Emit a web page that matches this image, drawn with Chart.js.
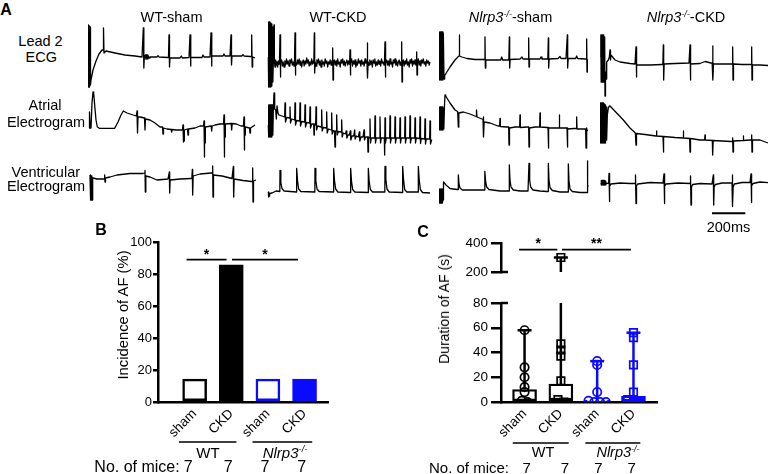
<!DOCTYPE html>
<html><head><meta charset="utf-8">
<script src="https://cdn.jsdelivr.net/npm/chart.js@4.4.1/dist/chart.umd.min.js"></script>
<style>
html,body{margin:0;padding:0;background:#fff;}
#root{position:relative;width:768px;height:474px;overflow:hidden;font-family:'Liberation Sans',Arial,sans-serif;color:#000;}
canvas{position:absolute;}
.t{position:absolute;white-space:nowrap;line-height:1;transform:translate(-50%,-50%);}
.r{transform:translate(-50%,-50%) rotate(-90deg);}
sup{font-size:0.62em;vertical-align:0.55em;line-height:0;}
</style></head><body><div id="root"></div>
<script>
// ================= DATA =================
// Panel A traces: [time (ms), amplitude (arb. units)]
const ecgWTsham = [[0,0],[1,3.2],[2,-3.0],[4,3.2],[6,-3.0],[8,3.1],[10,-3.0],[12,3.0],[15,-2.8],[18,-2.3],[30,-1.3],[48,-0.4],[66,0.3],[84,0.7],[90,0.7],[93,2.9],[96,0.4],[108,0.6],[162,0.4],[222,0.2],[282,0.1],[324,0],[329,0],[332,2.9],[335,-1.1],[338,0],[344,0.2],[347,-0.2],[350,0.2],[353,-0.2],[356,0.2],[359,-0.2],[362,0.1],[366,-0.1],[372,0],[414,0],[420,0.15],[426,0],[480,-0.05],[483,0],[486,2.2],[489,-1.0],[492,-0.1],[552,-0.1],[560,0.1],[566,-0.1],[606,-0.05],[609,-0.05],[612,2.2],[615,-0.9],[618,-0.05],[684,-0.05],[690,0.2],[696,0],[732,0],[735,0],[738,2.4],[741,-0.9],[744,0.1],[810,0.1],[816,0.3],[822,0.1],[852,0.1],[855,0.1],[858,2.2],[861,-0.8],[864,0.1],[924,0.1],[930,0.25],[936,0.1],[972,0.05],[979,0.05],[982,2.2],[985,-1.0],[988,0],[1002,-0.1]];
const atrWTsham = [[6,-0.3],[7,1.3],[9,-0.3],[11,1.3],[13,-0.3],[18,-0.3],[24,2.2],[30,3.3],[34,3.2],[40,2.0],[48,0.5],[56,-0.2],[68,-0.33],[160,-0.33],[180,0.3],[198,1.0],[212,1.4],[234,1.2],[270,1.0],[290,0.9],[294,1.4],[297,-0.8],[300,0.8],[312,0.8],[339,0.7],[342,-0.5],[345,0.6],[372,0.5],[402,0.2],[432,-0.2],[447,-0.2],[450,-0.9],[453,-0.3],[474,-0.4],[499,-0.45],[502,-0.7],[505,-0.45],[528,-0.5],[552,-0.5],[567,-0.5],[570,0.0],[572,-1.7],[574,-1.2],[576,-1.6],[578,-0.5],[597,-0.4],[600,-1.0],[603,-0.4],[642,-0.3],[672,-0.1],[693,-0.1],[696,0.4],[698,-3.2],[700,-1.0],[702,-1.8],[704,-0.2],[739,-0.1],[742,-0.6],[745,-0.1],[762,0.0],[792,0.1],[813,0.1],[816,1.0],[818,-3.2],[820,-0.6],[822,-1.2],[824,0.1],[859,0.15],[862,-0.5],[865,0.15],[890,0.1],[918,-0.1],[933,-0.1],[936,0.8],[938,-2.5],[940,-0.4],[942,-1.0],[944,-0.2],[969,-0.3],[972,-0.8],[975,-0.3],[1002,0.0]];
const ventWTsham = [[12,1.5],[14,-1.0],[17,1.5],[20,-1.0],[23,1.4],[26,-1.0],[28,1.2],[30,1.2],[54,1.1],[98,1.1],[100,1.5],[102,0.8],[105,1.2],[132,1.3],[174,1.5],[252,1.65],[330,1.65],[339,1.7],[342,1.95],[344,-0.2],[347,1.4],[372,1.3],[414,1.0],[480,1.1],[485,1.1],[488,1.8],[490,-0.3],[493,1.0],[552,1.1],[618,1.15],[623,1.15],[626,2.05],[628,-0.5],[631,1.4],[672,1.6],[738,1.7],[745,1.7],[748,2.4],[750,-0.7],[753,1.5],[804,1.4],[864,1.15],[869,1.15],[872,2.35],[874,-0.7],[877,1.1],[930,0.95],[981,0.85],[986,0.85],[988,2.2],[990,-1.2],[993,0.9],[1008,1.0]];

const ecgWTckd = [[8,0],[9,3.5],[11,-3.0],[14,3.5],[17,-3.0],[20,3.4],[23,-3.0],[26,3.3],[29,-2.9],[32,3.0],[35,-2.5],[38,-0.5],[42,3.2],[44,-0.4],[48,-1.0],[52,-0.3],[56,-0.8],[60,-0.5],[64,-1.0],[68,-0.4],[72,-0.7],[75,-0.5],[78,2.2],[80,-2.0],[83,-0.6],[88,-0.3],[92,-0.9],[97,-0.5],[102,-1.0],[107,-0.4],[112,-0.8],[117,-0.2],[122,-0.7],[127,-0.4],[132,-0.9],[137,-0.3],[142,-0.6],[147,-0.2],[152,-0.8],[157,-0.5],[162,-0.9],[165,-0.4],[168,2.4],[170,-1.8],[173,-0.5],[178,-0.8],[183,-0.3],[188,-0.7],[193,-0.2],[198,-0.8],[203,-0.4],[208,-1.0],[213,-0.5],[218,-0.3],[223,-0.9],[228,-0.4],[233,-0.7],[238,-0.1],[243,-0.6],[248,-0.3],[253,-0.9],[258,-0.5],[263,-0.8],[268,-0.2],[273,-0.7],[278,-0.4],[281,-0.6],[284,2.4],[286,-1.6],[289,-0.5],[294,-0.9],[299,-0.3],[304,-0.6],[309,-0.2],[314,-0.8],[319,-0.4],[324,-1.0],[329,-0.3],[334,-0.7],[339,-0.5],[344,-0.9],[349,-0.2],[354,-0.6],[359,-0.4],[364,-1.0],[369,-0.5],[374,-0.7],[379,-0.3],[384,-0.8],[389,-0.4],[391,-0.5],[394,0.9],[396,-2.3],[399,-0.6],[404,-0.3],[409,-0.8],[414,-0.4],[419,-0.9],[424,-0.2],[429,-0.7],[434,-0.5],[439,-1.0],[444,-0.3],[449,-0.6],[454,-0.2],[459,-0.8],[464,-0.4],[469,-0.9],[474,-0.5],[479,-0.3],[484,-0.8],[489,-0.4],[494,-0.7],[496,-0.5],[498,0.7],[500,-1.8],[503,-0.6],[508,-0.2],[513,-0.9],[518,-0.4],[523,-0.7],[528,-0.3],[533,-1.0],[538,-0.5],[543,-0.8],[548,-0.2],[553,-0.6],[558,-0.4],[563,-0.9],[568,-0.3],[573,-0.7],[578,-0.5],[583,-0.9],[588,-0.2],[593,-0.6],[598,-0.4],[600,-0.6],[602,1.4],[604,-2.1],[607,-0.5],[612,-0.8],[617,-0.3],[622,-0.7],[627,-0.4],[632,-1.0],[637,-0.3],[642,-0.6],[647,-0.2],[652,-0.9],[657,-0.5],[662,-0.8],[667,-0.3],[672,-0.7],[677,-0.4],[682,-0.9],[687,-0.2],[692,-0.6],[697,-0.5],[702,-0.8],[705,-0.4],[708,1.5],[710,-2.0],[713,-0.6],[718,-0.3],[723,-0.8],[728,-0.4],[733,-0.9],[738,-0.2],[743,-0.7],[748,-0.5],[753,-1.0],[758,-0.3],[763,-0.6],[768,-0.2],[773,-0.8],[778,-0.4],[783,-0.9],[788,-0.5],[793,-0.3],[798,-0.8],[803,-0.5],[805,-0.6],[808,1.5],[810,-2.5],[813,-0.6],[818,-0.3],[823,-0.9],[828,-0.4],[833,-0.7],[838,-0.2],[843,-0.8],[848,-0.5],[853,-1.0],[858,-0.3],[863,-0.6],[868,-0.2],[873,-0.9],[878,-0.4],[883,-0.7],[888,-0.3],[893,-0.8],[895,-0.5],[898,0.5],[900,-1.8],[903,-0.5],[908,-0.2],[913,-0.8],[918,-0.4],[923,-0.9],[928,-0.3],[933,-0.6],[938,-0.2],[943,-0.7],[948,-0.5],[953,-0.9],[958,-0.3],[963,-0.6],[968,-0.4],[973,-0.8],[978,-0.5]];
const atrWTckd = [[8,0],[9,2.0],[11,-1.2],[14,2.0],[17,-1.2],[20,2.0],[23,-1.2],[26,2.0],[29,-1.2],[32,2.0],[35,-1.0],[38,1.5],[42,3.2],[46,1.6],[52,1.5],[56,0.6],[60,1.9],[66,1.2],[72,1.0],[106,0.8],[108,2.2],[111,0.3],[118,0.75],[136,0.7],[138,1.8],[141,0.2],[148,0.6],[166,0.5],[168,2.2],[171,0.0],[178,0.45],[196,0.4],[198,2.2],[201,-0.1],[208,0.35],[226,0.3],[228,2.0],[231,-0.2],[238,0.25],[256,0.2],[258,1.8],[261,-0.3],[268,0.1],[280,0.1],[282,-1.0],[284,0.1],[292,0.0],[294,1.8],[297,-0.5],[304,-0.1],[326,-0.2],[328,1.5],[331,-0.6],[338,-0.25],[356,-0.3],[358,1.3],[361,-0.8],[368,-0.4],[386,-0.5],[388,1.2],[391,-0.9],[398,-0.55],[405,-0.6],[408,-2.2],[411,-0.6],[416,-0.6],[418,1.0],[421,-1.0],[428,-0.65],[446,-0.7],[448,0.5],[451,-1.2],[458,-0.8],[470,-0.9],[476,-0.6],[479,-1.3],[486,-1.0],[494,-1.0],[500,-0.6],[503,-1.5],[510,-1.1],[520,-1.1],[526,-0.5],[529,-1.4],[536,-1.1],[548,-1.2],[554,-0.7],[557,-1.6],[564,-1.2],[576,-1.2],[582,-0.5],[585,-1.5],[592,-1.2],[604,-1.2],[606,-2.7],[609,-1.2],[616,-1.3],[618,0.6],[621,-1.8],[626,-1.3],[646,-1.3],[648,0.9],[651,-1.8],[656,-1.3],[676,-1.3],[678,0.8],[681,-1.8],[686,-1.3],[704,-1.3],[706,-3.0],[708,0.7],[711,-1.8],[716,-1.3],[736,-1.3],[738,0.9],[741,-1.8],[746,-1.3],[766,-1.3],[768,0.8],[771,-1.8],[776,-1.3],[796,-1.3],[798,0.7],[801,-1.8],[806,-1.3],[826,-1.3],[828,0.8],[831,-1.8],[836,-1.3],[856,-1.3],[858,0.9],[861,-1.8],[866,-1.3],[886,-1.3],[888,0.7],[891,-1.8],[896,-1.3],[916,-1.35],[918,0.8],[921,-1.85],[926,-1.35],[946,-1.4],[948,0.6],[951,-1.9],[956,-1.4],[976,-1.4],[978,0.4],[981,-1.9],[988,-1.45]];
const ventWTckd = [[8,-0.2],[9,-0.7],[11,-0.2],[13,-0.6],[16,-0.35],[30,-0.3],[54,-0.1],[77,-0.15],[78,1.95],[83,0.75],[90,0.15],[103,-0.1],[177,-0.2],[178,2.15],[183,0.95],[190,0.1],[203,-0.15],[287,-0.2],[288,2.15],[293,0.95],[300,0.1],[313,-0.15],[399,-0.2],[400,2.15],[405,0.95],[412,0.1],[425,-0.2],[501,-0.25],[502,2.15],[507,0.9],[514,0.05],[527,-0.2],[607,-0.25],[608,2.15],[613,0.9],[620,0.05],[633,-0.2],[707,-0.2],[708,2.35],[713,1.1],[720,0.1],[733,-0.2],[813,-0.25],[814,2.35],[819,1.1],[826,0.05],[839,-0.2],[907,-0.2],[908,2.35],[913,1.1],[920,0.05],[933,-0.25],[978,-0.3]];

const ecgKOsham = [[2,0],[3,2.5],[5,-2.3],[8,2.5],[11,-2.3],[14,2.5],[17,-2.3],[20,2.5],[23,-2.3],[26,2.4],[30,-2.2],[34,-1.8],[36,-1.8],[66,-1.0],[96,-0.3],[116,0.05],[120,0.1],[122,2.2],[124,0.1],[138,0],[168,-0.15],[216,-0.25],[264,-0.25],[273,-0.25],[276,2.0],[278,-1.1],[281,-0.3],[336,-0.3],[370,-0.3],[376,0.0],[382,-0.3],[408,-0.3],[419,-0.3],[422,2.0],[424,-1.1],[427,-0.25],[486,-0.2],[498,0.0],[504,-0.2],[528,-0.2],[535,-0.2],[538,1.9],[540,-1.0],[543,-0.2],[606,-0.2],[612,0.0],[618,-0.2],[642,-0.2],[653,-0.2],[656,1.9],[658,-1.1],[661,-0.2],[714,-0.15],[726,0.05],[732,-0.15],[762,-0.15],[767,-0.15],[770,2.2],[772,-1.1],[775,-0.15],[820,-0.15],[826,0.1],[832,-0.15],[876,-0.2],[883,-0.2],[886,1.8],[888,-1.5],[890,-0.3],[894,-0.3]];
const atrKOsham = [[2,0],[3,1.8],[5,-0.5],[8,1.8],[11,-0.5],[14,1.8],[17,-0.5],[20,1.8],[23,-0.5],[26,1.7],[29,-0.4],[33,2.0],[36,3.0],[40,2.9],[66,2.2],[96,1.5],[112,1.35],[116,-0.2],[119,1.2],[146,1.3],[186,1.1],[222,0.85],[224,0.85],[226,1.5],[228,0.8],[258,0.6],[264,0.55],[266,0.8],[268,-1.2],[271,0.3],[306,0.2],[354,-0.1],[364,-0.1],[366,0.65],[368,-0.15],[408,-0.2],[418,-0.2],[420,-2.0],[423,-0.3],[456,-0.2],[484,-0.2],[486,1.0],[488,-0.25],[528,-0.2],[538,-0.2],[540,-2.2],[543,-0.3],[576,-0.2],[604,-0.2],[606,1.2],[608,-0.2],[648,-0.25],[654,-0.25],[656,-2.3],[659,-0.3],[696,-0.3],[720,-0.3],[722,1.0],[724,-0.3],[762,-0.3],[768,-0.3],[770,-2.2],[773,-0.4],[810,-0.35],[824,-0.35],[826,0.8],[828,-0.4],[864,-0.4],[880,-0.4],[882,-2.3],[885,-0.3],[887,-0.6],[894,-0.5]];
const ventKOsham = [[0,0],[1,-1.3],[3,0.1],[6,-1.3],[9,0.1],[12,-1.3],[15,0.1],[18,-1.3],[21,0.1],[24,-1.0],[26,0.7],[28,0.8],[42,0.5],[66,0.15],[108,0.05],[114,0.05],[116,1.5],[120,0.6],[126,0.2],[140,0.0],[186,0.0],[270,0.0],[274,0.0],[276,1.85],[280,0.8],[286,0.3],[300,0.05],[366,-0.1],[414,-0.1],[420,-0.1],[422,2.5],[426,1.0],[432,0.3],[446,0.0],[486,-0.1],[534,-0.1],[538,-0.1],[540,2.65],[544,1.0],[550,0.3],[564,0.0],[606,-0.1],[648,-0.15],[654,-0.15],[656,2.65],[660,1.0],[666,0.25],[680,-0.05],[726,-0.2],[768,-0.2],[774,-0.2],[776,2.6],[780,0.9],[786,0.1],[800,-0.15],[846,-0.25],[882,-0.25],[888,-0.25],[890,2.9],[893,0.5],[896,0.35]];

const ecgKOckd = [[4,0],[5,2.2],[7,-2.5],[10,2.2],[13,-2.5],[16,2.2],[19,-2.5],[22,2.2],[25,-2.5],[28,2.0],[30,-3.9],[33,-1.5],[36,-2.2],[40,-0.5],[50,-0.3],[56,0.0],[60,0.7],[63,-0.3],[66,0.2],[90,-0.3],[120,-0.5],[180,-0.65],[210,-0.7],[213,-0.7],[216,1.0],[218,-2.0],[221,-0.8],[300,-0.8],[372,-0.75],[377,-0.75],[380,1.2],[382,-2.3],[385,-0.7],[450,-0.65],[534,-0.6],[537,-0.6],[540,1.2],[542,-2.3],[545,-0.7],[600,-0.65],[630,-0.45],[666,-0.6],[673,-0.6],[676,1.1],[678,-2.3],[681,-0.7],[732,-0.7],[786,-0.7],[793,-0.7],[796,1.0],[798,-2.3],[801,-0.7],[852,-0.75],[900,-0.75],[907,-0.75],[910,1.0],[912,-2.3],[915,-0.8],[960,-0.8],[1008,-0.85]];
const atrKOckd = [[0,0],[1,2.2],[3,-1.8],[6,2.2],[9,-1.8],[12,2.2],[15,-1.8],[18,2.2],[21,-1.8],[24,2.1],[27,-1.8],[30,2.0],[33,-1.8],[36,1.8],[40,-1.5],[44,1.0],[50,1.7],[56,1.9],[60,1.9],[100,1.2],[140,0.5],[180,-0.3],[212,-0.8],[214,-0.8],[216,-2.0],[219,-0.85],[270,-0.95],[336,-1.1],[338,-1.1],[340,-0.6],[342,-1.1],[378,-1.15],[380,-2.7],[383,-1.15],[450,-1.25],[498,-1.3],[500,-0.6],[502,-1.3],[538,-1.35],[540,-2.7],[543,-1.35],[600,-1.5],[628,-1.5],[630,-1.0],[632,-1.5],[674,-1.55],[676,-3.0],[679,-1.55],[732,-1.6],[786,-1.65],[794,-1.65],[796,-1.3],[798,-2.7],[801,-1.6],[858,-1.55],[860,-1.1],[862,-1.55],[900,-1.5],[908,-1.5],[910,-1.0],[912,-2.7],[915,-1.5],[960,-1.5],[1008,-1.8]];
const ventKOckd = [[6,0.7],[7,0.95],[9,0.5],[12,0.95],[15,0.5],[18,0.95],[21,0.5],[24,0.95],[27,0.5],[30,0.9],[34,0.5],[40,0.7],[46,0.67],[52,0.67],[54,1.65],[56,-1.15],[59,0.4],[66,0.6],[120,0.7],[180,0.65],[210,0.65],[212,0.65],[214,1.5],[216,-1.35],[219,0.4],[226,0.6],[300,0.75],[378,0.7],[382,0.7],[384,1.6],[386,-1.35],[389,0.4],[396,0.6],[468,0.7],[540,0.65],[542,0.65],[544,1.4],[546,-1.5],[549,0.3],[556,0.55],[600,0.65],[672,0.6],[678,0.6],[680,1.5],[682,-1.5],[685,0.3],[692,0.55],[732,0.7],[786,0.7],[792,0.7],[794,1.5],[796,-1.65],[799,0.3],[806,0.6],[852,0.75],[900,0.75],[904,0.75],[906,1.6],[908,-1.25],[911,0.4],[918,0.65],[960,0.8],[1008,0.73]];

const scaleBarMs = [672, 872];           // 200 ms scale bar
const scaleBarLabel = '200ms';

// Panel B
const groupLabels = ['sham','CKD','sham','CKD'];
const incidencePct = [14.3, 85.7, 14.3, 14.3];
const miceCount = [7, 7, 7, 7];
const yTicksB = [0, 20, 40, 60, 80, 100];

// Panel C
const durWTsham = [58, 28, 20, 12, 8, 1, 0];
const durWTckd  = [300, 47, 42, 37, 17, 2, 0];
const durKOsham = [33, 30, 8, 1, 0, 0, 0];
const durKOckd  = [56, 52, 30, 8, 2, 0, 0];
const boxTop    = [10, 14.5, 1.5, 4.5];
const boxMedian = [1, 2.5, 0, 0.5];
const whiskerMax = [58, 300, 33, 56];
const yTicksCLow = [0, 20, 40, 60, 80];
const yTicksCHigh = [200, 400];

// annotations (in data units)
const sigB = [{from:0.78,to:1.87,y:89,mark:'*'},{from:2.02,to:3.82,y:89,mark:'*'}];
const sigC = [{from:0.85,to:1.9,y:354,mark:'*'},{from:2.03,to:3.93,y:354,mark:'**'}];
const genoSpansB = [[0.57,2.14],[2.58,4.21]];
const genoSpansC = [[0.675,2.216],[2.675,4.19]];

// ================= RENDER =================
const BLUE = 'rgb(10,10,255)';
const FONT = "'Liberation Sans', Arial, sans-serif";
Chart.defaults.font.family = FONT;
Chart.defaults.color = '#000';
Chart.defaults.animation = false;

const root = document.getElementById('root');
function mkCanvas(l, t, w, h) {
  const c = document.createElement('canvas');
  c.width = w; c.height = h;
  c.style.left = l + 'px'; c.style.top = t + 'px';
  c.style.width = w + 'px'; c.style.height = h + 'px';
  root.appendChild(c);
  return c;
}
function txt(html, x, y, size, opt) {
  opt = opt || {};
  const d = document.createElement('div');
  d.className = 't' + (opt.rot ? ' r' : '');
  d.innerHTML = html;
  d.style.left = x + 'px'; d.style.top = y + 'px';
  d.style.fontSize = size + 'px';
  if (opt.bold) d.style.fontWeight = 'bold';
  root.appendChild(d);
  return d;
}
const baseOpts = () => ({
  responsive: false, devicePixelRatio: 1, animation: false, events: [],
  plugins: { legend: { display: false }, tooltip: { enabled: false } }
});

// ---- Panel A ----
const traceGrid = [
  [ecgWTsham, atrWTsham, ventWTsham],
  [ecgWTckd, atrWTckd, ventWTckd],
  [ecgKOsham, atrKOsham, ventKOsham],
  [ecgKOckd, atrKOckd, ventKOckd]
];
const colLeft = [88, 267, 439, 600];
const rowZero = [57, 125, 190];
const MS_PER_PX = 6, UNIT_PX = 10, TRACE_W = 172, TRACE_H = 80;

const scaleBarPlugin = {
  id: 'scalebar',
  afterDraw(chart) {
    const { ctx, scales: { x, y } } = chart;
    const yy = y.getPixelForValue(-2.33);
    ctx.save(); ctx.strokeStyle = '#000'; ctx.lineWidth = 2;
    ctx.beginPath(); ctx.moveTo(x.getPixelForValue(scaleBarMs[0]), yy); ctx.lineTo(x.getPixelForValue(scaleBarMs[1]), yy); ctx.stroke();
    ctx.restore();
  }
};

traceGrid.forEach((col, ci) => col.forEach((trace, ri) => {
  const cv = mkCanvas(colLeft[ci], rowZero[ri] - TRACE_H / 2, TRACE_W, TRACE_H);
  const o = baseOpts();
  o.layout = { padding: 0 };
  o.scales = {
    x: { type: 'linear', display: false, min: 0, max: TRACE_W * MS_PER_PX },
    y: { type: 'linear', display: false, min: -TRACE_H / 2 / UNIT_PX, max: TRACE_H / 2 / UNIT_PX }
  };
  new Chart(cv, {
    type: 'scatter',
    data: { datasets: [{ data: trace.map(([t, v]) => ({ x: t, y: v })), showLine: true, borderColor: '#000', borderWidth: 1.3, borderJoinStyle: 'round', pointRadius: 0, tension: 0 }] },
    options: o,
    plugins: (ci === 3 && ri === 2) ? [scaleBarPlugin] : []
  });
}));

// ---- Panel B ----
const xPos = [1, 2, 3, 4];
function line(ctx, x1, y1, x2, y2) { ctx.beginPath(); ctx.moveTo(x1, y1); ctx.lineTo(x2, y2); ctx.stroke(); }
const annB = {
  id: 'annB',
  afterDraw(chart) {
    const { ctx, scales: { x, y }, chartArea } = chart;
    ctx.save(); ctx.strokeStyle = '#000'; ctx.fillStyle = '#000'; ctx.lineWidth = 1.6;
    ctx.font = 'bold 14px ' + FONT; ctx.textAlign = 'center'; ctx.textBaseline = 'alphabetic';
    sigB.forEach(s => {
      const yy = y.getPixelForValue(s.y);
      line(ctx, x.getPixelForValue(s.from), yy, x.getPixelForValue(s.to), yy);
      ctx.fillText(s.mark, (x.getPixelForValue(s.from) + x.getPixelForValue(s.to)) / 2, yy - 1);
    });
    genoSpansB.forEach(g => line(ctx, x.getPixelForValue(g[0]), chartArea.bottom + 40, x.getPixelForValue(g[1]), chartArea.bottom + 40));
    ctx.restore();
  }
};
{
  const cv = mkCanvas(90, 230, 250, 220);
  const o = baseOpts();
  o.layout = { padding: { top: 12, right: 12, left: 0, bottom: 0 } };
  o.scales = {
    x: {
      type: 'linear', min: 0, max: 4.64, offset: false,
      grid: { display: false, drawTicks: false },
      border: { display: true, color: '#000', width: 2.5 },
      afterBuildTicks: s => { s.ticks = xPos.map(v => ({ value: v })); },
      ticks: { autoSkip: false, minRotation: 45, maxRotation: 45, padding: 4, color: '#000', font: { size: 13.5 }, callback: v => groupLabels[v - 1] },
      afterFit: s => { s.height = 48; }
    },
    y: {
      type: 'linear', min: 0, max: 100,
      afterBuildTicks: s => { s.ticks = yTicksB.map(v => ({ value: v })); },
      ticks: { color: '#000', font: { size: 13 }, padding: 1 },
      grid: { drawOnChartArea: false, drawTicks: true, tickLength: 5, lineWidth: 2.5, color: '#000' },
      border: { display: true, color: '#000', width: 2.5 },
      afterFit: s => { s.width = 68; }
    }
  };
  new Chart(cv, {
    type: 'bar',
    data: { datasets: [{
      data: xPos.map((x, i) => ({ x, y: incidencePct[i] })),
      backgroundColor: ['#fff', '#000', '#fff', BLUE],
      borderColor: ['#000', '#000', BLUE, BLUE],
      borderWidth: 2.5, borderSkipped: false, barThickness: 24
    }] },
    options: o,
    plugins: [annB]
  });
}

// ---- Panel C ----
const durations = [durWTsham, durWTckd, durKOsham, durKOckd];
const colorsC = ['#000', '#000', BLUE, BLUE];
const shapesC = ['circle', 'rect', 'circle', 'rect'];
function spreadOffsets(vals) {
  const keyOf = v => (v < 3 ? 'low' : String(v));
  const counts = {}, seen = {};
  vals.forEach(v => { const k = keyOf(v); counts[k] = (counts[k] || 0) + 1; });
  return vals.map(v => { const k = keyOf(v); seen[k] = seen[k] === undefined ? 0 : seen[k] + 1; return (seen[k] - (counts[k] - 1) / 2) * 0.16; });
}
function datasetsC() {
  const ds = [];
  ds.push({ type: 'bar', data: xPos.map((x, i) => ({ x, y: [0, boxTop[i]] })), backgroundColor: '#fff', borderColor: colorsC, borderWidth: 2.3, borderSkipped: false, barThickness: 24, order: 6 });
  ds.push({ type: 'scatter', data: xPos.map((x, i) => ({ x, y: boxMedian[i] })), pointStyle: 'line', pointRadius: 11, pointBorderColor: colorsC, borderColor: colorsC, pointBorderWidth: 2, order: 5 });
  xPos.forEach((x, i) => ds.push({ type: 'scatter', data: [{ x, y: boxTop[i] }, { x, y: whiskerMax[i] }], showLine: true, borderColor: colorsC[i], borderWidth: 2.5, pointRadius: 0, order: 4 }));
  ds.push({ type: 'scatter', data: xPos.map((x, i) => ({ x, y: whiskerMax[i] })), pointStyle: 'line', pointRadius: 7, pointBorderColor: colorsC, borderColor: colorsC, pointBorderWidth: 2.5, order: 3 });
  durations.forEach((vals, i) => {
    const off = spreadOffsets(vals);
    ds.push({ type: 'scatter', data: vals.map((v, k) => ({ x: xPos[i] + off[k], y: v })), pointStyle: shapesC[i], pointRadius: shapesC[i] === 'rect' ? 5.3 : 4.2, pointBorderColor: colorsC[i], pointBackgroundColor: 'rgba(0,0,0,0)', borderColor: colorsC[i], pointBorderWidth: 1.7, order: 1 });
  });
  return ds;
}
const C_MIN = 0.351, C_MAX = 4.648;
const annCHigh = {
  id: 'annCHigh',
  afterDraw(chart) {
    const { ctx, scales: { x, y }, chartArea } = chart;
    ctx.save(); ctx.strokeStyle = '#000'; ctx.fillStyle = '#000'; ctx.lineWidth = 1.6;
    ctx.font = 'bold 14px ' + FONT; ctx.textAlign = 'center'; ctx.textBaseline = 'alphabetic';
    sigC.forEach(s => {
      const yy = y.getPixelForValue(s.y);
      line(ctx, x.getPixelForValue(s.from), yy, x.getPixelForValue(s.to), yy);
      ctx.fillText(s.mark, (x.getPixelForValue(s.from) + x.getPixelForValue(s.to)) / 2, yy - 2);
    });
    ctx.lineWidth = 2.5;
    const yb = y.getPixelForValue(200);
    line(ctx, chartArea.left, yb, chartArea.left + 7, yb);
    ctx.restore();
  }
};
const annCLow = {
  id: 'annCLow',
  afterDraw(chart) {
    const { ctx, scales: { x, y }, chartArea } = chart;
    ctx.save(); ctx.strokeStyle = '#000'; ctx.lineWidth = 2.5;
    const yb = y.getPixelForValue(80);
    line(ctx, chartArea.left, yb, chartArea.left + 7, yb);
    ctx.lineWidth = 1.6;
    genoSpansC.forEach(g => line(ctx, x.getPixelForValue(g[0]), chartArea.bottom + 41, x.getPixelForValue(g[1]), chartArea.bottom + 41));
    ctx.restore();
  }
};
function yAxisC(min, max, ticksArr) {
  return {
    type: 'linear', min, max,
    afterBuildTicks: s => { s.ticks = ticksArr.map(v => ({ value: v })); },
    ticks: { color: '#000', font: { size: 13.5 }, padding: 3 },
    grid: { drawOnChartArea: false, drawTicks: true, tickLength: 10, lineWidth: 2.5, color: '#000' },
    border: { display: true, color: '#000', width: 2.5 },
    afterFit: s => { s.width = 81; }
  };
}
{
  const cv = mkCanvas(420, 230, 250, 55);
  const o = baseOpts();
  o.layout = { padding: { top: 12, right: 10, left: 0, bottom: 8 } };
  o.scales = {
    x: { type: 'linear', display: false, offset: false, min: C_MIN, max: C_MAX },
    y: yAxisC(200, 400, yTicksCHigh)
  };
  new Chart(cv, { type: 'bar', data: { datasets: datasetsC() }, options: o, plugins: [annCHigh] });
}
{
  const cv = mkCanvas(420, 290, 250, 160);
  const o = baseOpts();
  o.layout = { padding: { top: 11, right: 10, left: 0, bottom: 0 } };
  o.scales = {
    x: {
      type: 'linear', min: C_MIN, max: C_MAX, offset: false,
      grid: { display: false, drawTicks: false },
      border: { display: true, color: '#000', width: 2.5 },
      afterBuildTicks: s => { s.ticks = xPos.map(v => ({ value: v })); },
      ticks: { autoSkip: false, minRotation: 45, maxRotation: 45, padding: 4, color: '#000', font: { size: 13.5 }, callback: v => groupLabels[v - 1] },
      afterFit: s => { s.height = 48; }
    },
    y: yAxisC(0, 80, yTicksCLow)
  };
  new Chart(cv, { type: 'bar', data: { datasets: datasetsC() }, options: o, plugins: [annCLow] });
}

// ---- Text ----
const KO = '<i>Nlrp3</i><sup><i>-/-</i></sup>';
txt('A', 6, 10, 16, { bold: true });
txt('WT-sham', 171.5, 16.5, 14.5);
txt('WT-CKD', 338, 16.5, 14.5);
txt(KO + '-sham', 510.5, 16.5, 14.5);
txt(KO + '-CKD', 686, 16.5, 14.5);
txt('Lead 2', 40.5, 40.5, 14.5);
txt('ECG', 41.3, 57, 14.5);
txt('Atrial', 45, 104.7, 14.5);
txt('Electrogram', 46, 122, 14.5);
txt('Ventricular', 45.8, 171.7, 14.5);
txt('Electrogram', 46, 185.8, 14.5);
txt(scaleBarLabel, 728.5, 227, 14.5);

txt('B', 101, 230, 16, { bold: true });
txt('Incidence of AF (%)', 122.5, 315, 14.8, { rot: true });
txt('WT', 208, 451.7, 15);
txt(KO, 285, 451.7, 15);
txt('No. of mice:', 137, 466.7, 16);
[188.3, 228.3, 265, 301.7].forEach((x, i) => txt(String(miceCount[i]), x, 466.7, 16));

txt('C', 423, 231.7, 16, { bold: true });
txt('Duration of AF (s)', 444, 309, 14, { rot: true });
txt('WT', 543, 452, 14.5);
txt(KO, 618, 452, 14.5);
txt('No. of mice:', 469, 467, 15);
[526.7, 565, 598.3, 631.7].forEach((x, i) => txt(String(miceCount[i]), x, 467, 15));
</script></body></html>
